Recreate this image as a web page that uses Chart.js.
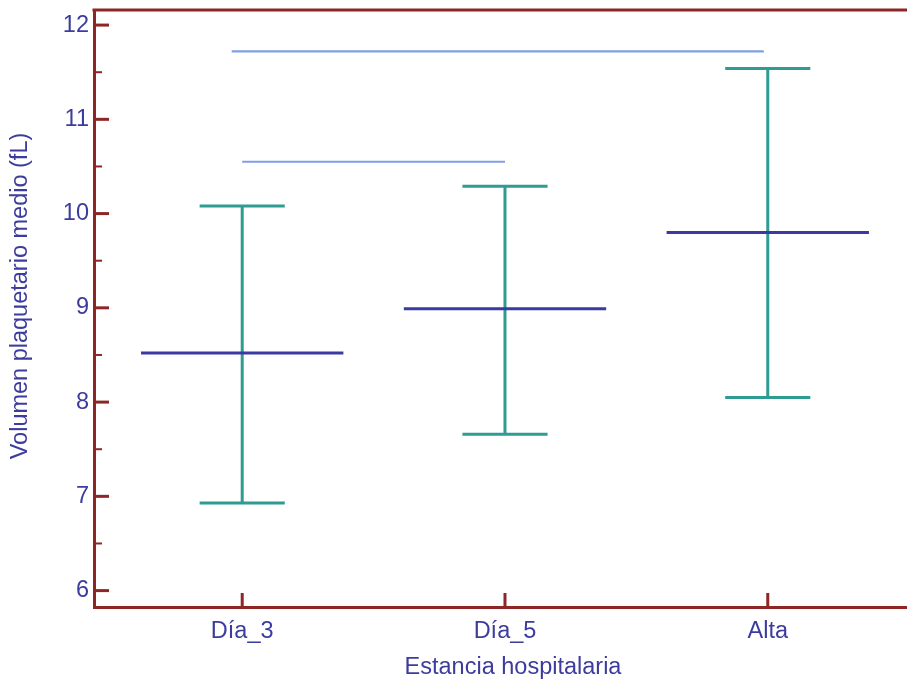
<!DOCTYPE html>
<html>
<head>
<meta charset="utf-8">
<script src="https://cdn.jsdelivr.net/npm/chart.js@4"></script>
<style>
html,body{margin:0;padding:0;background:#fff;overflow:hidden;width:907px;height:684px;}
#wrap{width:932px;height:684px;}
</style>
</head>
<body>
<div id="wrap"><canvas id="c" width="932" height="684"></canvas></div>
<script>
// ---- data ----
const categories = ['Día_3', 'Día_5', 'Alta'];
const meanValues = [8.52, 8.99, 9.80];
const upperValues = [10.08, 10.29, 11.54];
const lowerValues = [6.93, 7.66, 8.05];
// significance brackets: [startX, endX, y] in category units
const sigStart = [0, -0.04];
const sigEnd = [1, 1.985];
const sigLevel = [10.55, 11.72];
const yTickValues = [6, 7, 8, 9, 10, 11, 12];
const yMinorTicks = [6.5, 7.5, 8.5, 9.5, 10.5, 11.5];
const xTitle = 'Estancia hospitalaria';
const yTitle = 'Volumen plaquetario medio (fL)';

// ---- styling ----
const AXIS = '#8e2626';
const TEXT = '#3c3c9e';
const TEAL = '#2f9c93';
const MEAN = '#3a3aa0';
const SIG = '#7f9fe3';
const FONT = "'Liberation Sans', Arial, sans-serif";
const meanHalf = 0.385, capHalf = 0.162;

const meanData = [], errData = [], sigData = [];
categories.forEach((c, i) => {
  meanData.push({x: i - meanHalf, y: meanValues[i]}, {x: i + meanHalf, y: meanValues[i]}, {x: i + meanHalf, y: null});
  errData.push({x: i - capHalf, y: upperValues[i]}, {x: i + capHalf, y: upperValues[i]}, {x: i + capHalf, y: null});
  errData.push({x: i, y: upperValues[i]}, {x: i, y: lowerValues[i]}, {x: i, y: null});
  errData.push({x: i - capHalf, y: lowerValues[i]}, {x: i + capHalf, y: lowerValues[i]}, {x: i + capHalf, y: null});
});
sigLevel.forEach((v, k) => {
  sigData.push({x: sigStart[k], y: v}, {x: sigEnd[k], y: v}, {x: sigEnd[k], y: null});
});

const frame = {
  id: 'frame',
  afterDraw(chart) {
    const {ctx, chartArea: a, scales: {x, y}} = chart;
    ctx.save();
    ctx.strokeStyle = AXIS;
    ctx.lineCap = 'butt';
    ctx.lineWidth = 3;
    ctx.beginPath();
    ctx.moveTo(a.left - 1.5, a.top);
    ctx.lineTo(a.right, a.top);
    ctx.stroke();
    yTickValues.forEach(v => {
      const p = y.getPixelForValue(v);
      ctx.beginPath(); ctx.moveTo(a.left, p); ctx.lineTo(a.left + 15, p); ctx.stroke();
    });
    x.ticks.forEach(t => {
      const p = x.getPixelForValue(t.value);
      ctx.beginPath(); ctx.moveTo(p, a.bottom); ctx.lineTo(p, a.bottom - 14); ctx.stroke();
    });
    ctx.lineWidth = 2;
    yMinorTicks.forEach(v => {
      const p = y.getPixelForValue(v);
      ctx.beginPath(); ctx.moveTo(a.left, p); ctx.lineTo(a.left + 8, p); ctx.stroke();
    });
    // y axis title
    ctx.translate(21, 296);
    ctx.rotate(-Math.PI / 2);
    ctx.fillStyle = TEXT;
    ctx.font = "23.5px " + FONT;
    ctx.textAlign = 'center';
    ctx.textBaseline = 'middle';
    ctx.fillText(yTitle, 0, 0);
    ctx.restore();
  }
};

const lineDs = (data, color, w) => ({
  data, borderColor: color, borderWidth: w, pointRadius: 0, pointHoverRadius: 0,
  showLine: true, spanGaps: false, fill: false, tension: 0, borderCapStyle: 'butt'
});

new Chart(document.getElementById('c'), {
  type: 'line',
  data: {
    datasets: [
      lineDs(meanData, MEAN, 3),
      lineDs(errData, TEAL, 3),
      lineDs(sigData, SIG, 2.2)
    ]
  },
  options: {
    responsive: false,
    animation: false,
    events: [],
    layout: {padding: {top: 10, right: 0, bottom: 0, left: 0}},
    plugins: {legend: {display: false}, tooltip: {enabled: false}},
    scales: {
      x: {
        type: 'linear',
        min: -0.564, max: 2.625,
        afterBuildTicks: s => { s.ticks = categories.map((c, i) => ({value: i})); },
        afterFit: s => { s.height = 77; s.paddingLeft = 0; s.paddingRight = 0; },
        grid: {display: false, drawTicks: false},
        border: {display: true, color: AXIS, width: 3},
        ticks: {
          padding: 10,
          color: TEXT,
          font: {family: FONT, size: 23.5},
          callback: v => categories[v],
          maxRotation: 0, autoSkip: false
        },
        title: {display: true, text: xTitle, color: TEXT, font: {family: FONT, size: 23.5}, padding: {top: 0, bottom: 2}}
      },
      y: {
        type: 'linear',
        min: 5.826, max: 12.16,
        afterBuildTicks: s => { s.ticks = yTickValues.map(v => ({value: v})); },
        afterFit: s => { s.width = 94; s.paddingTop = 0; s.paddingBottom = 0; },
        grid: {display: false, drawTicks: false},
        border: {display: true, color: AXIS, width: 3},
        ticks: {padding: 5, color: TEXT, font: {family: FONT, size: 23.5}},
        title: {display: false}
      }
    }
  },
  plugins: [frame]
});
</script>
</body>
</html>
